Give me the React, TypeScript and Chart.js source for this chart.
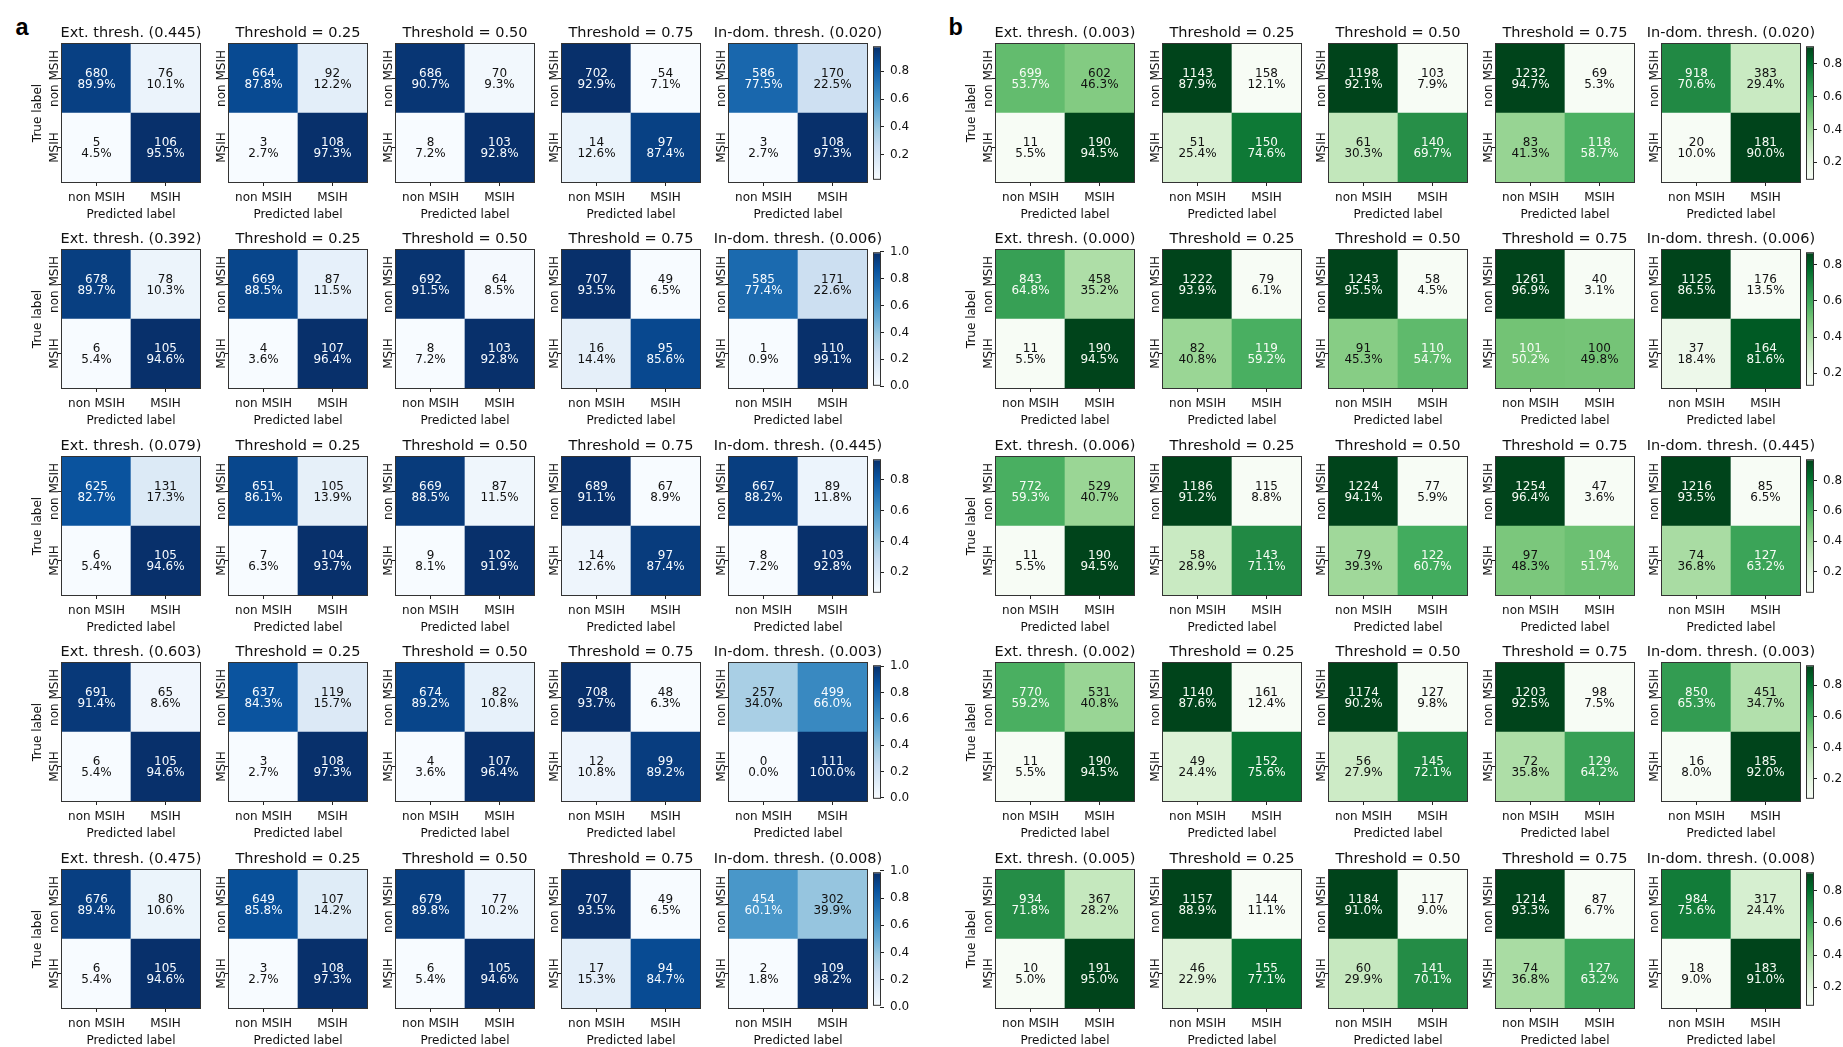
import React, { useEffect, useRef } from "react";
import { Chart, registerables } from "chart.js";

Chart.register(...registerables);

// ---------------- data ----------------
const classLabels = ["non MSIH", "MSIH"];
const predictedLabel = "Predicted label";
const trueLabel = "True label";
const fixedThresholds = ["0.25", "0.50", "0.75"];

// panel a: external / in-domain thresholds per row
const extThreshA = ["0.445", "0.392", "0.079", "0.603", "0.475"];
const inDomThreshA = ["0.020", "0.006", "0.445", "0.003", "0.008"];
// panel b
const extThreshB = ["0.003", "0.000", "0.006", "0.002", "0.005"];
const inDomThreshB = ["0.020", "0.006", "0.445", "0.003", "0.008"];

// counts per matrix: [TN, FP, FN, TP] (rows: true non MSIH, true MSIH)
const countsA1 = [[680, 76, 5, 106], [664, 92, 3, 108], [686, 70, 8, 103], [702, 54, 14, 97], [586, 170, 3, 108]];
const countsA2 = [[678, 78, 6, 105], [669, 87, 4, 107], [692, 64, 8, 103], [707, 49, 16, 95], [585, 171, 1, 110]];
const countsA3 = [[625, 131, 6, 105], [651, 105, 7, 104], [669, 87, 9, 102], [689, 67, 14, 97], [667, 89, 8, 103]];
const countsA4 = [[691, 65, 6, 105], [637, 119, 3, 108], [674, 82, 4, 107], [708, 48, 12, 99], [257, 499, 0, 111]];
const countsA5 = [[676, 80, 6, 105], [649, 107, 3, 108], [679, 77, 6, 105], [707, 49, 17, 94], [454, 302, 2, 109]];

const countsB1 = [[699, 602, 11, 190], [1143, 158, 51, 150], [1198, 103, 61, 140], [1232, 69, 83, 118], [918, 383, 20, 181]];
const countsB2 = [[843, 458, 11, 190], [1222, 79, 82, 119], [1243, 58, 91, 110], [1261, 40, 101, 100], [1125, 176, 37, 164]];
const countsB3 = [[772, 529, 11, 190], [1186, 115, 58, 143], [1224, 77, 79, 122], [1254, 47, 97, 104], [1216, 85, 74, 127]];
const countsB4 = [[770, 531, 11, 190], [1140, 161, 49, 152], [1174, 127, 56, 145], [1203, 98, 72, 129], [850, 451, 16, 185]];
const countsB5 = [[934, 367, 10, 191], [1157, 144, 46, 155], [1184, 117, 60, 141], [1214, 87, 74, 127], [984, 317, 18, 183]];

// colorbar tick labels per row
const cbTicksA = [
  [0.2, 0.4, 0.6, 0.8],
  [0.0, 0.2, 0.4, 0.6, 0.8, 1.0],
  [0.2, 0.4, 0.6, 0.8],
  [0.0, 0.2, 0.4, 0.6, 0.8, 1.0],
  [0.0, 0.2, 0.4, 0.6, 0.8, 1.0],
];
const cbTicksB = [
  [0.2, 0.4, 0.6, 0.8],
  [0.2, 0.4, 0.6, 0.8],
  [0.2, 0.4, 0.6, 0.8],
  [0.2, 0.4, 0.6, 0.8],
  [0.2, 0.4, 0.6, 0.8],
];

// ---------------- styles ----------------
const FONT = "'DejaVu Sans', 'Noto Sans', sans-serif";
const TEXT = "#111111";
const FRAME = "#333333";
const TICK = "#222222";
const BLUES = ["#f7fbff", "#deebf7", "#c6dbef", "#9ecae1", "#6baed6", "#4292c6", "#2171b5", "#08519c", "#08306b"];
const GREENS = ["#f7fcf5", "#e5f5e0", "#c7e9c0", "#a1d99b", "#74c476", "#41ab5d", "#238b45", "#006d2c", "#00441b"];

// layout (px)
const S = 138;
const ROW_TOP0 = 44;
const ROW_DY = 206.4;
const A_LEFT0 = 62;
const A_DX = 166.75;
const B_LEFT0 = 996;
const B_DX = 166.6;
const A_CB_LEFT = 874;
const B_CB_LEFT = 1807;
const CB_W = 6;
const PL = 62;
const PR = 40;
const PT = 40;
const PB = 42;

function hexToRgb(h: string): number[] {
  const n = parseInt(h.slice(1), 16);
  return [(n >> 16) & 255, (n >> 8) & 255, n & 255];
}

function cmapAt(stops: string[], t: number): string {
  const tt = Math.min(1, Math.max(0, t));
  const pos = tt * (stops.length - 1);
  const i = Math.min(stops.length - 2, Math.floor(pos));
  const f = pos - i;
  const a = hexToRgb(stops[i]);
  const b = hexToRgb(stops[i + 1]);
  const c = a.map((v, k) => Math.round(v + (b[k] - v) * f));
  return `rgb(${c[0]},${c[1]},${c[2]})`;
}

function fractions(counts: number[]): number[] {
  const [tn, fp, fn, tp] = counts;
  return [tn / (tn + fp), fp / (tn + fp), fn / (fn + tp), tp / (fn + tp)];
}

type MatrixProps = {
  left: number;
  top: number;
  title: string;
  counts: number[];
  stops: string[];
  yTitle: boolean;
};

function Matrix({ left, top, title, counts, stops, yTitle }: MatrixProps) {
  const ref = useRef<HTMLCanvasElement>(null);
  useEffect(() => {
    if (!ref.current) return;
    const [tn, fp, fn, tp] = counts;
    const fr = fractions(counts);
    const vmin = Math.min(...fr);
    const vmax = Math.max(...fr);
    const thresh = (vmin + vmax) / 2;
    const col = (v: number) => cmapAt(stops, (v - vmin) / (vmax - vmin));
    const light = stops[0];
    // dataset 0 = bottom row (true MSIH), dataset 1 = top row (true non MSIH)
    const rowCounts = [[fn, tp], [tn, fp]];
    const rowFracs = [[fr[2], fr[3]], [fr[0], fr[1]]];

    const plugin = {
      id: "cmText",
      afterDraw(chart: any) {
        const { ctx, chartArea: ca, scales } = chart;
        ctx.save();
        ctx.strokeStyle = FRAME;
        ctx.lineWidth = 1;
        ctx.strokeRect(ca.left - 0.5, ca.top - 0.5, ca.right - ca.left + 1, ca.bottom - ca.top + 1);

        ctx.font = `12px ${FONT}`;
        ctx.textAlign = "center";
        ctx.textBaseline = "alphabetic";
        chart.data.datasets.forEach((_ds: any, di: number) => {
          const meta = chart.getDatasetMeta(di);
          meta.data.forEach((el: any, j: number) => {
            const p = el.getProps(["x", "y", "base"], true);
            const cy = (p.y + p.base) / 2;
            const f = rowFracs[di][j];
            ctx.fillStyle = f >= thresh ? light : TEXT;
            ctx.fillText(String(rowCounts[di][j]), p.x, cy - 1.8);
            ctx.fillText((f * 100).toFixed(1) + "%", p.x, cy + 9.9);
          });
        });

        ctx.fillStyle = TEXT;
        const ys = scales.y;
        const yLabs: [number, string][] = [[1.5, classLabels[0]], [0.5, classLabels[1]]];
        yLabs.forEach(([v, lab]) => {
          const py = ys.getPixelForValue(v);
          ctx.save();
          ctx.translate(ca.left - 3.7, py);
          ctx.rotate(-Math.PI / 2);
          ctx.fillText(lab, 0, 0);
          ctx.restore();
        });

        ctx.font = `14.5px ${FONT}`;
        ctx.fillText(title, (ca.left + ca.right) / 2, ca.top - 7.3);
        ctx.restore();
      },
    };

    const tickFont = { family: FONT, size: 12 };
    const chart = new Chart(ref.current, {
      type: "bar",
      data: {
        labels: classLabels,
        datasets: [
          {
            data: [1, 1],
            backgroundColor: rowFracs[0].map(col),
            borderWidth: 0,
            barPercentage: 1,
            categoryPercentage: 1,
          },
          {
            data: [1, 1],
            backgroundColor: rowFracs[1].map(col),
            borderWidth: 0,
            barPercentage: 1,
            categoryPercentage: 1,
          },
        ],
      },
      options: {
        responsive: false,
        animation: false,
        devicePixelRatio: 1,
        events: [],
        layout: { padding: { left: 0, right: PR, top: PT, bottom: 0 } },
        plugins: { legend: { display: false }, tooltip: { enabled: false }, title: { display: false } },
        scales: {
          x: {
            type: "category",
            stacked: true,
            offset: true,
            grid: { display: true, drawOnChartArea: false, drawTicks: true, tickLength: 4, tickColor: TICK, tickWidth: 1, offset: false },
            border: { display: false },
            ticks: { color: TEXT, font: tickFont, padding: 5, maxRotation: 0, minRotation: 0, autoSkip: false },
            title: { display: true, text: predictedLabel, color: TEXT, font: tickFont, padding: { top: 0, bottom: 2 } },
            afterFit: (s: any) => {
              s.height = PB;
            },
          },
          y: {
            type: "linear",
            stacked: true,
            min: 0,
            max: 2,
            afterBuildTicks: (s: any) => {
              s.ticks = [{ value: 0.5 }, { value: 1.5 }];
            },
            grid: { display: true, drawOnChartArea: false, drawTicks: true, tickLength: 4, tickColor: TICK, tickWidth: 1 },
            border: { display: false },
            ticks: { display: false },
            title: { display: yTitle, text: trueLabel, color: TEXT, font: tickFont, padding: { top: 30.35, bottom: 0 } },
            afterFit: (s: any) => {
              s.width = PL;
            },
          },
        },
      } as any,
      plugins: [plugin],
    });
    return () => chart.destroy();
  }, [left, top, title, counts, stops, yTitle]);

  return (
    <canvas
      ref={ref}
      width={PL + S + PR}
      height={PT + S + PB}
      style={{ position: "absolute", left: left - PL, top: top - PT }}
    />
  );
}

type CbProps = { left: number; top: number; counts: number[]; ticks: number[]; stops: string[] };

function Colorbar({ left, top, counts, ticks, stops }: CbProps) {
  const ref = useRef<HTMLCanvasElement>(null);
  useEffect(() => {
    if (!ref.current) return;
    const fr = fractions(counts);
    const vmin = Math.min(...fr);
    const vmax = Math.max(...fr);
    const frame = {
      id: "cbFrame",
      afterDraw(chart: any) {
        const { ctx, chartArea: ca } = chart;
        ctx.save();
        ctx.strokeStyle = FRAME;
        ctx.lineWidth = 1;
        ctx.strokeRect(ca.left - 0.5, ca.top - 0.5, ca.right - ca.left + 1, ca.bottom - ca.top + 1);
        ctx.restore();
      },
    };
    const chart = new Chart(ref.current, {
      type: "bar",
      data: {
        labels: [""],
        datasets: [
          {
            data: [[vmin, vmax]],
            backgroundColor: (c: any) => {
              const ca = c.chart.chartArea;
              if (!ca) return stops[0];
              const g = c.chart.ctx.createLinearGradient(0, ca.bottom, 0, ca.top);
              stops.forEach((s, i) => g.addColorStop(i / (stops.length - 1), s));
              return g;
            },
            borderWidth: 0,
            barPercentage: 1,
            categoryPercentage: 1,
          },
        ],
      },
      options: {
        responsive: false,
        animation: false,
        devicePixelRatio: 1,
        events: [],
        layout: { padding: { left: 2, right: 0, top: 10, bottom: 10 } },
        plugins: { legend: { display: false }, tooltip: { enabled: false } },
        scales: {
          x: { display: false },
          y: {
            position: "right",
            min: vmin,
            max: vmax,
            afterBuildTicks: (s: any) => {
              s.ticks = ticks.map((v) => ({ value: v }));
            },
            ticks: {
              autoSkip: false,
              padding: 6,
              color: TEXT,
              font: { family: FONT, size: 12 },
              callback: (v: any) => Number(v).toFixed(1),
            },
            grid: { drawOnChartArea: false, drawTicks: true, tickLength: 4, tickColor: TICK, tickWidth: 1 },
            border: { display: false },
            afterFit: (s: any) => {
              s.width = 40;
            },
          },
        },
      } as any,
      plugins: [frame],
    });
    return () => chart.destroy();
  }, [left, top, counts, ticks, stops]);

  return (
    <canvas
      ref={ref}
      width={2 + CB_W + 40}
      height={S + 20}
      style={{ position: "absolute", left: left - 2, top: top - 10 }}
    />
  );
}

const panelA = {
  rows: [countsA1, countsA2, countsA3, countsA4, countsA5],
  ext: extThreshA,
  inDom: inDomThreshA,
  cbTicks: cbTicksA,
  stops: BLUES,
  left0: A_LEFT0,
  dx: A_DX,
  cbLeft: A_CB_LEFT,
};
const panelB = {
  rows: [countsB1, countsB2, countsB3, countsB4, countsB5],
  ext: extThreshB,
  inDom: inDomThreshB,
  cbTicks: cbTicksB,
  stops: GREENS,
  left0: B_LEFT0,
  dx: B_DX,
  cbLeft: B_CB_LEFT,
};

export default function App() {
  useEffect(() => {
    document.body.style.margin = "0";
  }, []);
  const items: React.ReactNode[] = [];
  [panelA, panelB].forEach((p, pi) => {
    p.rows.forEach((row, r) => {
      const top = Math.round(ROW_TOP0 + r * ROW_DY);
      row.forEach((counts, c) => {
        const left = Math.round(p.left0 + c * p.dx);
        const title =
          c === 0
            ? `Ext. thresh. (${p.ext[r]})`
            : c === 4
            ? `In-dom. thresh. (${p.inDom[r]})`
            : `Threshold = ${fixedThresholds[c - 1]}`;
        items.push(
          <Matrix key={`m${pi}-${r}-${c}`} left={left} top={top} title={title} counts={counts} stops={p.stops} yTitle={c === 0} />
        );
      });
      items.push(
        <Colorbar key={`cb${pi}-${r}`} left={p.cbLeft} top={top} counts={row[4]} ticks={p.cbTicks[r]} stops={p.stops} />
      );
    });
  });
  const letterStyle: React.CSSProperties = {
    position: "absolute",
    top: 15.5,
    fontFamily: "'Liberation Sans', Arial, sans-serif",
    fontWeight: "bold",
    fontSize: "23.5px",
    lineHeight: "23px",
    color: "#000",
  };
  return (
    <div
      style={{
        position: "absolute",
        left: 0,
        top: 0,
        width: 1843,
        height: 1047,
        overflow: "hidden",
        background: "#fff",
      }}
    >
      <div style={{ ...letterStyle, left: 15.5 }}>a</div>
      <div style={{ ...letterStyle, left: 948.5 }}>b</div>
      {items}
    </div>
  );
}
